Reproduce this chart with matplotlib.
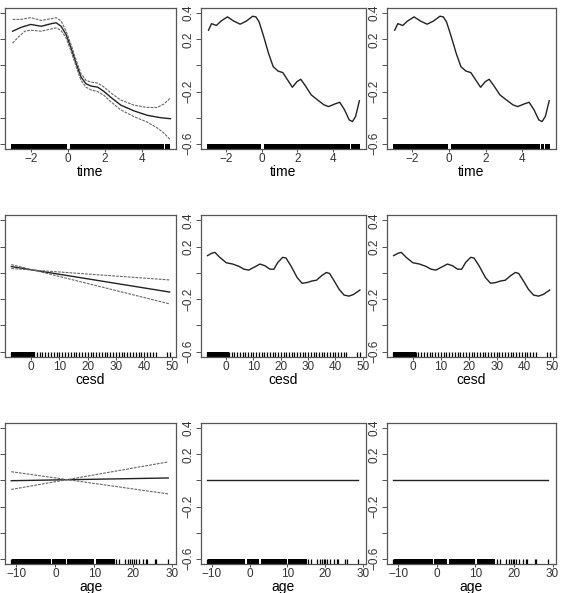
import numpy as np
import matplotlib
matplotlib.use("Agg")
import matplotlib.pyplot as plt
import matplotlib.transforms as mtransforms

plt.rcParams['font.family'] = ['Liberation Sans Narrow', 'Liberation Sans', 'DejaVu Sans']

# %% data
# row 1: time, column 1 (fit + 2 se bands)
time_fit_x = [-2.98, -2.5, -2.0, -1.43, -0.89, -0.63, -0.36, -0.09, 0.18, 0.45, 0.71,
              0.98, 1.25, 1.61, 1.96, 2.32, 2.86, 3.57, 4.29, 5.0, 5.54]
time_fit = [0.262, 0.293, 0.314, 0.30, 0.32, 0.327, 0.30, 0.236, 0.132, 0.016, -0.088,
            -0.14, -0.158, -0.166, -0.2, -0.244, -0.304, -0.348, -0.382, -0.4, -0.408]
time_up_x = [-2.98, -2.5, -2.0, -1.43, -0.89, -0.63, -0.36, -0.09, 0.18, 0.45, 0.71,
             0.98, 1.25, 1.61, 1.96, 2.32, 2.86, 3.57, 4.29, 4.82, 5.18, 5.54]
time_up = [0.353, 0.353, 0.366, 0.345, 0.358, 0.366, 0.34, 0.262, 0.158, 0.04, -0.062,
           -0.114, -0.127, -0.135, -0.166, -0.21, -0.265, -0.304, -0.322, -0.322, -0.296, -0.25]
time_lo_x = [-2.98, -2.68, -2.32, -2.0, -1.43, -0.89, -0.63, -0.36, -0.09, 0.18, 0.45, 0.71,
             0.98, 1.25, 1.61, 1.96, 2.32, 2.86, 3.57, 4.29, 4.82, 5.18, 5.54]
time_lo = [0.171, 0.216, 0.262, 0.27, 0.262, 0.28, 0.288, 0.267, 0.21, 0.106, -0.01, -0.114,
           -0.166, -0.187, -0.2, -0.23, -0.278, -0.34, -0.392, -0.434, -0.478, -0.517, -0.57]

# row 1: time, columns 2 and 3 (wiggly curve)
time_smooth_x = [-2.97, -2.8, -2.7, -2.53, -2.27, -1.91, -1.56, -1.2, -0.85, -0.5, -0.32,
                 -0.14, 0.12, 0.39, 0.65, 0.92, 1.19, 1.45, 1.72, 1.98, 2.19, 2.42, 2.78,
                 3.13, 3.49, 3.75, 4.1, 4.37, 4.64, 4.9, 5.08, 5.26, 5.47]
time_smooth = [0.27, 0.32, 0.315, 0.306, 0.34, 0.372, 0.34, 0.316, 0.34, 0.377, 0.372,
               0.334, 0.22, 0.092, -0.01, -0.043, -0.055, -0.11, -0.167, -0.124, -0.106,
               -0.15, -0.226, -0.264, -0.302, -0.315, -0.295, -0.282, -0.34, -0.417,
               -0.43, -0.39, -0.27]

# row 2: cesd, column 1 (straight lines, end points)
cesd_lin_x = [-7.0, 49.0]
cesd_fit = [0.048, -0.146]
cesd_up = [0.033, -0.054]
cesd_lo = [0.063, -0.236]

# row 2: cesd, columns 2 and 3
cesd_smooth_x = [-6.86, -5.3, -4.14, -2.37, 0.0, 2.37, 4.73, 6.5, 8.28, 10.06, 12.4, 14.2,
                 16.0, 17.5, 18.9, 20.7, 21.9, 23.7, 26.0, 27.8, 29.6, 31.4, 33.1, 34.9,
                 36.7, 37.9, 39.6, 41.4, 43.2, 45.0, 46.7, 49.0]
cesd_smooth = [0.131, 0.149, 0.156, 0.118, 0.077, 0.067, 0.049, 0.028, 0.021, 0.041, 0.067,
               0.054, 0.028, 0.028, 0.079, 0.118, 0.113, 0.054, -0.036, -0.079, -0.074,
               -0.062, -0.056, -0.023, 0.003, -0.005, -0.062, -0.126, -0.169, -0.177,
               -0.164, -0.131]

# row 3: age, column 1 (straight lines, end points)
age_lin_x = [-11.3, 28.9]
age_fit = [-0.002, 0.019]
age_band_a = [0.067, -0.103]
age_band_b = [-0.069, 0.142]

# row 3: age, columns 2 and 3 (flat)
age_flat_x = [-11.3, 28.9]
age_flat = [0.0, 0.0]

# rugs: dense stretches and single ticks
time_rug_spans = [(-3.05, -0.05), (0.12, 4.95), (5.0, 5.2), (5.25, 5.5)]
time_rug_ticks = []
cesd_rug_spans = [(-7.1, 1.2)]
cesd_rug_ticks = [-7, -6, -5, -4, -3, -2, -1, 0, 1, 2, 3, 4, 5, 6, 7, 8, 9, 10, 11, 12, 13,
                  14, 15, 16, 17, 18, 19, 20, 21, 22, 23, 24, 25, 26, 27, 28, 29, 30, 31, 32,
                  33, 34, 35, 36, 37, 38, 39, 40, 41, 42, 43, 44, 48, 49]
age_rug_spans = [(-11.0, -1.1), (-0.8, 2.6), (3.1, 9.9), (10.3, 15.2)]
age_rug_ticks = [-11.3, 15.6, 16.4, 17.9, 18.7, 19.2, 19.7, 20.1, 20.6, 21.4, 22.4, 23.1,
                 23.5, 25.4, 25.8, 28.9]

var_names = ['time', 'cesd', 'age']
x_limits = [(-3.39, 5.84), (-9.24, 51.24), (-12.9, 30.9)]
x_ticks = [[-2, 0, 2, 4], [0, 10, 20, 30, 40, 50], [-10, 0, 10, 20, 30]]
y_ticks = [-0.6, -0.4, -0.2, 0.0, 0.2, 0.4]
y_ticklabels = ['\u22120.6', '', '\u22120.2', '', '0.2', '0.4']
y_limits = (-0.64, 0.44)

# %% layout (pixels in a 562x593 canvas)
W, H = 562, 593
col_px = [(5, 176), (201, 366), (387, 556)]
row_px = [(8, 149), (215, 357), (423, 564)]

fig = plt.figure(figsize=(W / 100, H / 100), dpi=100)

line_kw = dict(color='#222222', lw=1.0)
band_kw = dict(color='#666666', lw=0.8, ls=(0, (2.5, 1)))

rugs = [(time_rug_spans, time_rug_ticks), (cesd_rug_spans, cesd_rug_ticks),
        (age_rug_spans, age_rug_ticks)]

for r in range(3):
    for c in range(3):
        x0, x1 = col_px[c]
        top, bot = row_px[r]
        ax = fig.add_axes([x0 / W, 1 - bot / H, (x1 - x0) / W, (bot - top) / H])

        if r == 0:
            if c == 0:
                ax.plot(time_fit_x, time_fit, **line_kw)
                ax.plot(time_up_x, time_up, **band_kw)
                ax.plot(time_lo_x, time_lo, **band_kw)
            else:
                ax.plot(time_smooth_x, time_smooth, **line_kw)
        elif r == 1:
            if c == 0:
                ax.plot(cesd_lin_x, cesd_fit, **line_kw)
                ax.plot(cesd_lin_x, cesd_up, **band_kw)
                ax.plot(cesd_lin_x, cesd_lo, **band_kw)
            else:
                ax.plot(cesd_smooth_x, cesd_smooth, **line_kw)
        else:
            if c == 0:
                ax.plot(age_lin_x, age_fit, **line_kw)
                ax.plot(age_lin_x, age_band_a, **band_kw)
                ax.plot(age_lin_x, age_band_b, **band_kw)
            else:
                ax.plot(age_flat_x, age_flat, **line_kw)

        # rug along the bottom
        spans, ticks = rugs[r]
        trans = mtransforms.blended_transform_factory(ax.transData, ax.transAxes)
        for a, b in spans:
            ax.axvspan(a, b, ymin=0, ymax=0.035, color='black', lw=0)
        ax.vlines(ticks, 0, 0.035, transform=trans, color='black', lw=0.9)

        ax.set_xlim(*x_limits[r])
        ax.set_ylim(*y_limits)
        ax.set_xticks(x_ticks[r])
        ax.set_xticklabels([str(v).replace('-', '\u2212') for v in x_ticks[r]], fontsize=8.5)
        ax.set_yticks(y_ticks)
        ax.set_yticklabels(y_ticklabels, rotation=90, va='center', fontsize=8.5)
        ax.tick_params(axis='x', direction='out', length=2.5, width=0.6, pad=0.5,
                       colors='#333333')
        ax.tick_params(axis='y', direction='out', length=3.5, width=0.6, pad=1.5,
                       colors='#333333')
        ax.set_xlabel(var_names[r], fontsize=10, labelpad=0)
        for s in ax.spines.values():
            s.set_color('#555555')
            s.set_linewidth(0.9)

fig.savefig('out.png', dpi=100)
